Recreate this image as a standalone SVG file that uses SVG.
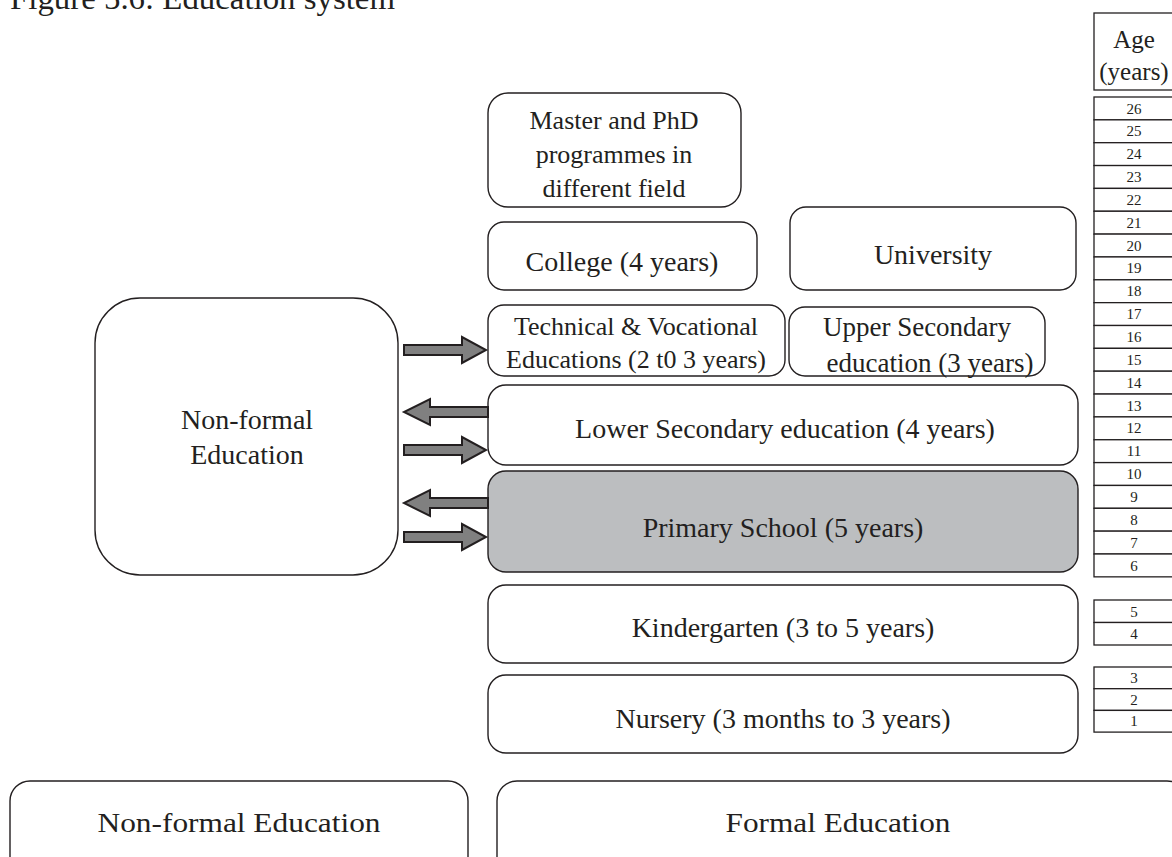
<svg xmlns="http://www.w3.org/2000/svg" width="1172" height="857" viewBox="0 0 1172 857">
<style>
text{font-family:"Liberation Serif","DejaVu Serif",serif;fill:#231f20;text-anchor:middle}
.box{fill:#ffffff;stroke:#231f20;stroke-width:1.4}
.grey{fill:#bcbec0}
.t28{font-size:28px}
.t26{font-size:26px}
.t27{font-size:27px}
.age{font-size:15px}
.cell{fill:#ffffff;stroke:#231f20;stroke-width:1.3}
.arrow{fill:#808080;stroke:#231f20;stroke-width:2;stroke-linejoin:miter}
</style>
<rect width="1172" height="857" fill="#ffffff"/>
<text x="10" y="9" style="text-anchor:start;font-size:32px" textLength="385" lengthAdjust="spacingAndGlyphs">Figure 5.6: Education system</text>

<g id="master">
<rect class="box" x="488" y="93" width="253" height="114" rx="20"/>
<text class="t26" x="614" y="129">Master and PhD</text>
<text class="t26" x="614" y="163">programmes in</text>
<text class="t26" x="614" y="197">different field</text>
</g>
<g id="college">
<rect class="box" x="488" y="222" width="269" height="68" rx="16"/>
<text class="t28" x="622" y="271">College (4 years)</text>
</g>
<g id="university">
<rect class="box" x="790" y="207" width="286" height="83" rx="16"/>
<text class="t28" x="933" y="264">University</text>
</g>
<g id="technical">
<rect class="box" x="488" y="305" width="297" height="71" rx="16"/>
<text class="t26" x="636" y="335">Technical &amp; Vocational</text>
<text class="t26" x="636" y="368">Educations (2 t0 3 years)</text>
</g>
<g id="upper-secondary">
<rect class="box" x="789" y="307" width="256" height="69" rx="16"/>
<text class="t27" x="917" y="336">Upper Secondary</text>
<text class="t27" x="930" y="372">education (3 years)</text>
</g>
<g id="lower-secondary">
<rect class="box" x="488" y="385" width="590" height="80" rx="18"/>
<text class="t28" x="785" y="438">Lower Secondary education (4 years)</text>
</g>
<g id="primary">
<rect class="box grey" x="488" y="471" width="590" height="101" rx="18"/>
<text class="t28" x="783" y="537">Primary School (5 years)</text>
</g>
<g id="kindergarten">
<rect class="box" x="488" y="585" width="590" height="78" rx="18"/>
<text class="t28" x="783" y="637">Kindergarten (3 to 5 years)</text>
</g>
<g id="nursery">
<rect class="box" x="488" y="675" width="590" height="78" rx="18"/>
<text class="t28" x="783" y="728">Nursery (3 months to 3 years)</text>
</g>
<g id="nonformal">
<rect class="box" x="95" y="298" width="303" height="277" rx="45"/>
<text class="t28" x="247" y="429">Non-formal</text>
<text class="t28" x="247" y="464">Education</text>
</g>
<g id="nonformal-label">
<rect class="box" x="10" y="781" width="458" height="100" rx="20"/>
<text class="t28" x="239" y="832" textLength="283" lengthAdjust="spacingAndGlyphs">Non-formal Education</text>
</g>
<g id="formal-label">
<rect class="box" x="497" y="781" width="690" height="100" rx="20"/>
<text class="t28" x="838" y="832" textLength="225" lengthAdjust="spacingAndGlyphs">Formal Education</text>
</g>

<g id="age-header">
<rect class="cell" x="1094" y="13" width="90" height="77"/>
<text x="1134" y="48" style="font-size:25px">Age</text>
<text x="1134" y="80" style="font-size:25px">(years)</text>
</g>
<g id="age-table">
<rect class="cell" x="1094" y="97" width="90" height="22.85"/>
<rect class="cell" x="1094" y="119.85" width="90" height="22.85"/>
<rect class="cell" x="1094" y="142.7" width="90" height="22.85"/>
<rect class="cell" x="1094" y="165.55" width="90" height="22.85"/>
<rect class="cell" x="1094" y="188.4" width="90" height="22.85"/>
<rect class="cell" x="1094" y="211.25" width="90" height="22.85"/>
<rect class="cell" x="1094" y="234.1" width="90" height="22.85"/>
<rect class="cell" x="1094" y="256.95" width="90" height="22.85"/>
<rect class="cell" x="1094" y="279.8" width="90" height="22.85"/>
<rect class="cell" x="1094" y="302.65" width="90" height="22.85"/>
<rect class="cell" x="1094" y="325.5" width="90" height="22.85"/>
<rect class="cell" x="1094" y="348.35" width="90" height="22.85"/>
<rect class="cell" x="1094" y="371.2" width="90" height="22.85"/>
<rect class="cell" x="1094" y="394.05" width="90" height="22.85"/>
<rect class="cell" x="1094" y="416.9" width="90" height="22.85"/>
<rect class="cell" x="1094" y="439.75" width="90" height="22.85"/>
<rect class="cell" x="1094" y="462.6" width="90" height="22.85"/>
<rect class="cell" x="1094" y="485.45" width="90" height="22.85"/>
<rect class="cell" x="1094" y="508.3" width="90" height="22.85"/>
<rect class="cell" x="1094" y="531.15" width="90" height="22.85"/>
<rect class="cell" x="1094" y="554" width="90" height="22.85"/>
<text class="age" x="1134" y="113.5">26</text>
<text class="age" x="1134" y="136.3">25</text>
<text class="age" x="1134" y="159.2">24</text>
<text class="age" x="1134" y="182">23</text>
<text class="age" x="1134" y="204.9">22</text>
<text class="age" x="1134" y="227.7">21</text>
<text class="age" x="1134" y="250.6">20</text>
<text class="age" x="1134" y="273.4">19</text>
<text class="age" x="1134" y="296.3">18</text>
<text class="age" x="1134" y="319.1">17</text>
<text class="age" x="1134" y="342">16</text>
<text class="age" x="1134" y="364.8">15</text>
<text class="age" x="1134" y="387.7">14</text>
<text class="age" x="1134" y="410.5">13</text>
<text class="age" x="1134" y="433.4">12</text>
<text class="age" x="1134" y="456.2">11</text>
<text class="age" x="1134" y="479.1">10</text>
<text class="age" x="1134" y="501.9">9</text>
<text class="age" x="1134" y="524.8">8</text>
<text class="age" x="1134" y="547.6">7</text>
<text class="age" x="1134" y="570.5">6</text>
<rect class="cell" x="1094" y="600" width="90" height="22.5"/>
<rect class="cell" x="1094" y="622.5" width="90" height="22.5"/>
<text class="age" x="1134" y="616.5">5</text>
<text class="age" x="1134" y="639">4</text>
<rect class="cell" x="1094" y="667" width="90" height="21.7"/>
<rect class="cell" x="1094" y="688.7" width="90" height="21.7"/>
<rect class="cell" x="1094" y="710.4" width="90" height="21.7"/>
<text class="age" x="1134" y="683">3</text>
<text class="age" x="1134" y="704.7">2</text>
<text class="age" x="1134" y="726.4">1</text>
</g>

<g id="connectors">
<polygon class="arrow" points="404,345 462,345 462,337 486,350 462,363 462,355 404,355"/>
<polygon class="arrow" points="488,407 430,407 430,399 404,412 430,425 430,417 488,417"/>
<polygon class="arrow" points="404,445 462,445 462,437 486,450 462,463 462,455 404,455"/>
<polygon class="arrow" points="488,498 430,498 430,490 404,503 430,516 430,508 488,508"/>
<polygon class="arrow" points="404,532 462,532 462,524 486,537 462,550 462,542 404,542"/>
</g>
</svg>
